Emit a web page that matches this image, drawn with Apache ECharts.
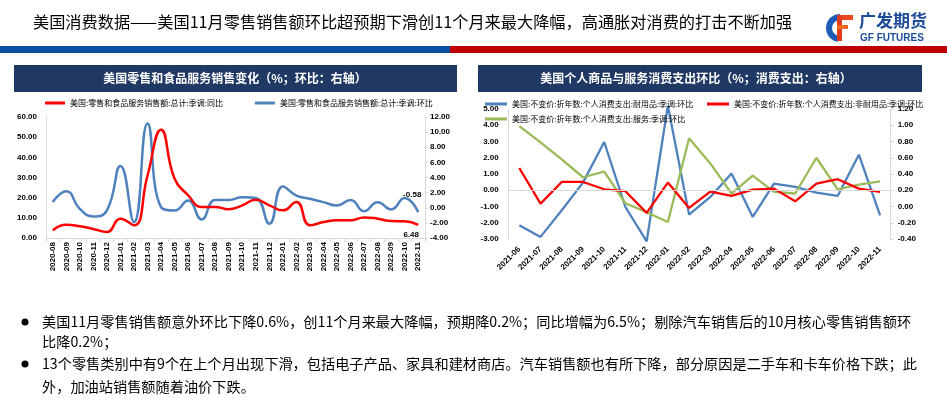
<!DOCTYPE html>
<html><head><meta charset="utf-8">
<script src="https://cdn.jsdelivr.net/npm/echarts@6/dist/echarts.min.js"></script>
<style>html,body{margin:0;padding:0;background:#fff}#c{width:947px;height:405px}</style>
</head><body><div id="c"></div>
<script>
// ---------- Data ----------
const leftCategories = ['2020-08','2020-09','2020-10','2020-11','2020-12','2021-01','2021-02','2021-03','2021-04','2021-05','2021-06','2021-07','2021-08','2021-09','2021-10','2021-11','2021-12','2022-01','2022-02','2022-03','2022-04','2022-05','2022-06','2022-07','2022-08','2022-09','2022-10','2022-11'];
const retailYoY = [3.8, 6.6, 5.8, 4.5, 3.0, 9.6, 6.3, 31.0, 53.7, 29.4, 21.2, 15.4, 15.4, 14.2, 16.2, 19.0, 16.2, 13.7, 17.9, 6.3, 7.9, 8.8, 8.8, 10.2, 9.6, 8.4, 8.3, 6.48];
const retailMoM = [0.74, 2.18, -0.14, -1.15, -0.36, 5.52, -1.89, 11.13, 0.08, -0.36, 0.96, -1.54, 1.04, 1.04, 1.39, 1.3, -2.1, 2.8, 1.6, 1.18, 0.74, 0.3, 1.04, -0.45, 0.74, -0.23, 1.3, -0.58];

const rightCategories = ['2021-06','2021-07','2021-08','2021-09','2021-10','2021-11','2021-12','2022-01','2022-02','2022-03','2022-04','2022-05','2022-06','2022-07','2022-08','2022-09','2022-10','2022-11'];
const durableMoM = [-2.15, -2.87, -1.23, 0.47, 2.97, -1.03, -3.15, 5.2, -1.5, -0.41, 1.03, -1.64, 0.41, 0.21, -0.14, -0.35, 2.19, -1.54];
const nondurableMoM = [1.37, -0.82, 0.51, 0.51, 0.06, -0.06, -1.39, 0.47, -1.09, -0.08, -0.35, 0.04, 0.1, -0.68, 0.41, 0.68, 0.1, -0.1];
const servicesMoM = [0.99, 0.79, 0.58, 0.36, 0.43, 0.04, -0.07, -0.19, 0.84, 0.53, 0.16, 0.38, 0.18, 0.16, 0.6, 0.21, 0.27, 0.31];

const leftYTicks = {min: 0, max: 60, interval: 10};
const leftY2Ticks = {min: -4, max: 12, interval: 2};
const rightYTicks = {min: -3, max: 5, interval: 1};
const rightY2Ticks = {min: -0.4, max: 1.2, interval: 0.2};

const nameYoY = '美国:零售和食品服务销售额:总计:季调:同比';
const nameMoM = '美国:零售和食品服务销售额:总计:季调:环比';
const nameDur = '美国:不变价:折年数:个人消费支出:耐用品:季调:环比';
const nameNon = '美国:不变价:折年数:个人消费支出:非耐用品:季调:环比';
const nameSvc = '美国:不变价:折年数:个人消费支出:服务:季调:环比';

const headerText = '美国消费数据——美国11月零售销售额环比超预期下滑创11个月来最大降幅，高通胀对消费的打击不断加强';
const leftTitle = '美国零售和食品服务销售变化（%；环比：右轴）';
const rightTitle = '美国个人商品与服务消费支出环比（%；消费支出：右轴）';
const bulletLines = [
  '美国11月零售销售额意外环比下降0.6%，创11个月来最大降幅，预期降0.2%；同比增幅为6.5%；剔除汽车销售后的10月核心零售销售额环',
  '比降0.2%；',
  '13个零售类别中有9个在上个月出现下滑，包括电子产品、家具和建材商店。汽车销售额也有所下降，部分原因是二手车和卡车价格下跌；此',
  '外，加油站销售额随着油价下跌。'
];

// ---------- Styles ----------
const NUM = 'Liberation Sans, Arial, sans-serif';
const CJK = 'Noto Sans CJK SC, sans-serif';
const RED = '#FF0000', BLUE = '#4F81BD', GREEN = '#9BBB59';
const AX = '#D9D9D9';
const numLabel = (margin) => ({fontSize: 8, fontWeight: 'bold', color: '#000', fontFamily: NUM, margin: margin, formatter: v => Number(v).toFixed(2)});
const endLabel = (pos, off) => ({show: true, position: pos, offset: off, formatter: p => Number(p.value).toFixed(2), fontSize: 8, fontWeight: 'bold', color: '#000', fontFamily: NUM});

const yoyData = retailYoY.map((v, i) => i === retailYoY.length - 1 ? {value: v, label: endLabel('bottom', [-7, 1])} : v);
const momData = retailMoM.map((v, i) => i === retailMoM.length - 1 ? {value: v, label: endLabel('top', [-6, -8])} : v);

const legendBase = {icon: 'rect', itemHeight: 3, textStyle: {fontSize: 8, color: '#000', fontFamily: CJK}, padding: 0, selectedMode: false};
const BF = 14.2;

const graphic = [
  {type: 'text', left: 33, top: 14, style: {text: headerText, fontSize: 16.2, fontFamily: CJK, fill: '#000'}},
  {type: 'rect', shape: {x: 0, y: 46, width: 450, height: 7}, style: {fill: '#0B4EA2'}},
  {type: 'rect', shape: {x: 450, y: 46, width: 497, height: 7}, style: {fill: '#C00000'}},
  // logo
  {type: 'arc', shape: {cx: 840, cy: 28, r: 11, startAngle: Math.PI * 0.55, endAngle: Math.PI * 1.5, clockwise: true}, style: {stroke: '#1E5BB8', lineWidth: 6, fill: null}},
  {type: 'rect', shape: {x: 837, y: 15, width: 16, height: 5}, style: {fill: '#E9461E'}},
  {type: 'rect', shape: {x: 837, y: 15, width: 5, height: 26}, style: {fill: '#E23A1C'}},
  {type: 'rect', shape: {x: 837, y: 25, width: 11, height: 4}, style: {fill: '#F26A21'}},
  {type: 'text', left: 859, top: 12, style: {text: '广发期货', fontSize: 17, fontWeight: 'bold', fontFamily: CJK, fill: '#1E4C9A'}},
  {type: 'text', left: 860, top: 33, style: {text: 'GF FUTURES', fontSize: 10, fontWeight: 'bold', fontFamily: NUM, fill: '#1E4C9A'}},
  // chart title bars
  {type: 'rect', shape: {x: 14, y: 65, width: 443, height: 27}, style: {fill: '#203864'}},
  {type: 'text', x: 235, y: 78.5, style: {text: leftTitle, fontSize: 12, fontWeight: 'bold', fontFamily: CJK, fill: '#fff', align: 'center', verticalAlign: 'middle'}},
  {type: 'rect', shape: {x: 478, y: 65, width: 444, height: 27}, style: {fill: '#203864'}},
  {type: 'text', x: 696, y: 78.5, style: {text: rightTitle, fontSize: 12, fontWeight: 'bold', fontFamily: CJK, fill: '#fff', align: 'center', verticalAlign: 'middle'}},
  // bullets
  {type: 'circle', shape: {cx: 25, cy: 322, r: 3.5}, style: {fill: '#000'}},
  {type: 'circle', shape: {cx: 25, cy: 364, r: 3.5}, style: {fill: '#000'}},
  {type: 'text', x: 42, y: 322, style: {text: bulletLines[0], fontSize: BF, fontFamily: CJK, fill: '#000', verticalAlign: 'middle'}},
  {type: 'text', x: 42, y: 342, style: {text: bulletLines[1], fontSize: BF, fontFamily: CJK, fill: '#000', verticalAlign: 'middle'}},
  {type: 'text', x: 42, y: 364, style: {text: bulletLines[2], fontSize: BF, fontFamily: CJK, fill: '#000', verticalAlign: 'middle'}},
  {type: 'text', x: 42, y: 387, style: {text: bulletLines[3], fontSize: BF, fontFamily: CJK, fill: '#000', verticalAlign: 'middle'}}
];

const option = {
  animation: false,
  backgroundColor: '#fff',
  graphic: graphic,
  legend: [
    Object.assign({}, legendBase, {left: 45, top: 99, itemWidth: 20, itemGap: 32, data: [nameYoY, nameMoM]}),
    Object.assign({}, legendBase, {left: 485, top: 100, itemWidth: 22, data: [nameDur]}),
    Object.assign({}, legendBase, {left: 707, top: 100, itemWidth: 22, data: [nameNon]}),
    Object.assign({}, legendBase, {left: 485, top: 115, itemWidth: 22, data: [nameSvc]})
  ],
  grid: [
    {left: 46, right: 522, top: 117, height: 121},
    {left: 508.7, right: 56.3, top: 109, height: 130}
  ],
  xAxis: [
    {type: 'category', gridIndex: 0, data: leftCategories, boundaryGap: true,
     axisLine: {lineStyle: {color: AX}}, axisTick: {show: true, length: 4, lineStyle: {color: AX}},
     axisLabel: {rotate: 90, interval: 0, fontSize: 8, fontWeight: 'bold', color: '#000', fontFamily: NUM, margin: 4}},
    {type: 'category', gridIndex: 1, data: rightCategories, boundaryGap: true,
     axisLine: {show: false}, axisTick: {show: false},
     axisLabel: {rotate: 45, interval: 0, fontSize: 8, fontWeight: 'bold', color: '#000', fontFamily: NUM, margin: 9}}
  ],
  yAxis: [
    {type: 'value', gridIndex: 0, position: 'left', min: leftYTicks.min, max: leftYTicks.max, interval: leftYTicks.interval,
     splitLine: {show: false}, axisLine: {show: true, lineStyle: {color: AX}}, axisTick: {show: false}, axisLabel: numLabel(9)},
    {type: 'value', gridIndex: 0, position: 'right', min: leftY2Ticks.min, max: leftY2Ticks.max, interval: leftY2Ticks.interval,
     splitLine: {show: false}, axisLine: {show: true, lineStyle: {color: AX}}, axisTick: {show: true, length: 3, lineStyle: {color: AX}}, axisLabel: numLabel(5)},
    {type: 'value', gridIndex: 1, position: 'left', min: rightYTicks.min, max: rightYTicks.max, interval: rightYTicks.interval,
     splitLine: {show: false}, axisLine: {show: true, lineStyle: {color: AX}}, axisTick: {show: false}, axisLabel: numLabel(10)},
    {type: 'value', gridIndex: 1, position: 'right', min: rightY2Ticks.min, max: rightY2Ticks.max, interval: rightY2Ticks.interval,
     splitLine: {show: false}, axisLine: {show: true, lineStyle: {color: AX}}, axisTick: {show: true, length: 3, lineStyle: {color: AX}}, axisLabel: numLabel(7)}
  ],
  series: [
    {name: nameYoY, type: 'line', xAxisIndex: 0, yAxisIndex: 0, data: yoyData, smooth: true, symbol: 'circle', symbolSize: 0, showSymbol: true, clip: false,
     lineStyle: {color: RED, width: 2.5}, itemStyle: {color: RED}, z: 3},
    {name: nameMoM, type: 'line', xAxisIndex: 0, yAxisIndex: 1, data: momData, smooth: true, symbol: 'circle', symbolSize: 0, showSymbol: true, clip: false,
     lineStyle: {color: BLUE, width: 2.5}, itemStyle: {color: BLUE}, z: 2},
    {name: 'zero', type: 'line', xAxisIndex: 1, yAxisIndex: 2, data: [], z: 1,
     markLine: {silent: true, symbol: 'none', label: {show: false}, lineStyle: {color: AX, type: 'solid', width: 1}, data: [{yAxis: 0}]}},
    {name: nameDur, type: 'line', xAxisIndex: 1, yAxisIndex: 2, data: durableMoM, symbol: 'none', clip: false,
     lineStyle: {color: BLUE, width: 2.3}, itemStyle: {color: BLUE}, z: 2},
    {name: nameNon, type: 'line', xAxisIndex: 1, yAxisIndex: 2, data: nondurableMoM, symbol: 'none', clip: false,
     lineStyle: {color: RED, width: 2.3}, itemStyle: {color: RED}, z: 3},
    {name: nameSvc, type: 'line', xAxisIndex: 1, yAxisIndex: 3, data: servicesMoM, symbol: 'none', clip: false,
     lineStyle: {color: GREEN, width: 2.3}, itemStyle: {color: GREEN}, z: 2}
  ]
};
const chart = echarts.init(document.getElementById('c'));
chart.setOption(option);
</script>
</body></html>
